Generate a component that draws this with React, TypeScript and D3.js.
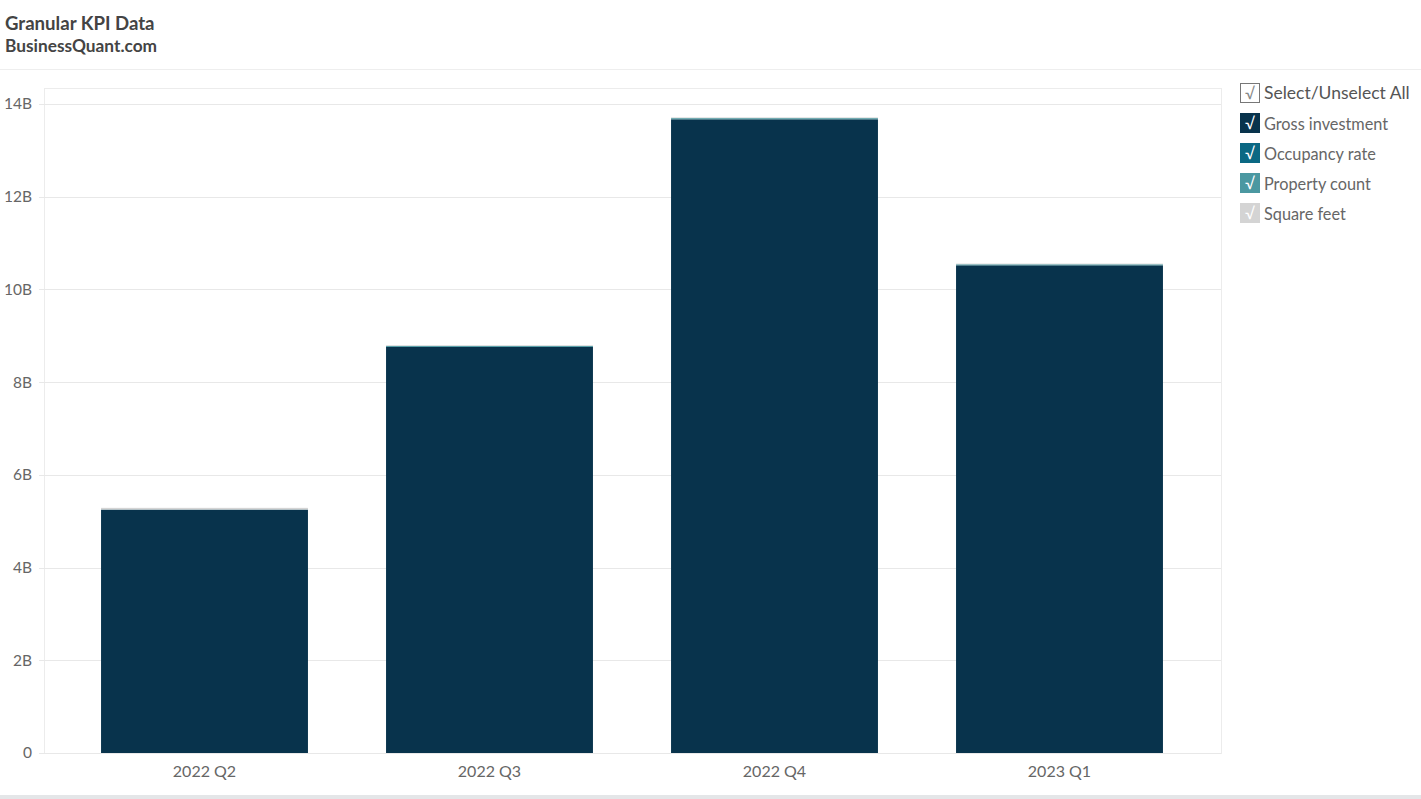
import React, { useRef, useEffect } from 'react';
import * as d3 from 'd3';

const quarters = ['2022 Q2', '2022 Q3', '2022 Q4', '2023 Q1'];
const seriesNames = ['Gross investment', 'Occupancy rate', 'Property count', 'Square feet'];
const seriesColors = ['#08334c', '#0b6883', '#4b98a1', '#d4d4d4'];

// values as plotted (stacked on one axis)
const grossInvestment = [5.25e9, 8.76e9, 13.67e9, 10.52e9];
const occupancyRate = [0.99, 0.99, 0.99, 0.99];
const propertyCount = [3.0e6, 2.0e7, 2.5e7, 2.2e7];
const squareFeet = [3.5e7, 1.5e7, 1.5e7, 1.5e7];

const yTicks = [0, 2e9, 4e9, 6e9, 8e9, 10e9, 12e9, 14e9];

const App: React.FC = () => {
  const svgRef = useRef<SVGSVGElement>(null);

  useEffect(() => {
    if (!svgRef.current) return;
    const svg = d3.select(svgRef.current);
    svg.selectAll('*').remove();

    const width = 1421;
    const height = 799;
    const plot = { left: 44, top: 88, right: 1221, bottom: 753 };

    svg.attr('width', width).attr('height', height)
      .style('font-family', 'Lato, "Open Sans", sans-serif');

    // header
    svg.append('text').attr('x', 5).attr('y', 30)
      .attr('font-size', 18.6).attr('font-weight', 700).attr('fill', '#444')
      .text('Granular KPI Data');
    svg.append('text').attr('x', 5).attr('y', 52)
      .attr('font-size', 17.3).attr('font-weight', 700).attr('fill', '#444')
      .text('BusinessQuant.com');
    svg.append('line').attr('x1', 0).attr('x2', width).attr('y1', 69.5).attr('y2', 69.5)
      .attr('stroke', '#eeeeee');
    svg.append('rect').attr('x', 0).attr('y', 795).attr('width', width).attr('height', 4)
      .attr('fill', '#e4e6e8');

    const x = d3.scaleBand<string>()
      .domain(quarters)
      .range([62, 1202])
      .paddingInner(0.274)
      .paddingOuter(0.137);

    const y = d3.scaleLinear().domain([0, 14e9]).range([plot.bottom, 104]);

    // frame
    svg.append('rect')
      .attr('x', plot.left + 0.5).attr('y', plot.top + 0.5)
      .attr('width', plot.right - plot.left).attr('height', plot.bottom - plot.top)
      .attr('fill', 'none').attr('stroke', '#ececec');

    // grid
    const grid = svg.append('g');
    grid.selectAll('line').data(yTicks).enter().append('line')
      .attr('x1', plot.left - 5).attr('x2', plot.right)
      .attr('y1', d => Math.round(y(d)) + 0.5).attr('y2', d => Math.round(y(d)) + 0.5)
      .attr('stroke', '#e8e8e8');

    grid.selectAll('text').data(yTicks).enter().append('text')
      .attr('x', 32).attr('y', d => y(d)).attr('dy', '0.35em')
      .attr('text-anchor', 'end').attr('font-size', 15.5).attr('fill', '#666')
      .text(d => (d === 0 ? '0' : `${d / 1e9}B`));

    // stacked bars
    const rows = quarters.map((q, i) => ({
      quarter: q,
      'Gross investment': grossInvestment[i],
      'Occupancy rate': occupancyRate[i],
      'Property count': propertyCount[i],
      'Square feet': squareFeet[i],
    }));
    const stack = d3.stack<any>().keys(seriesNames);
    const layers = stack(rows);

    layers.forEach((layer, li) => {
      svg.append('g').selectAll('rect').data(layer).enter().append('rect')
        .attr('x', d => x(d.data.quarter) as number)
        .attr('width', x.bandwidth())
        .attr('y', d => y(d[1]))
        .attr('height', d => Math.max(0, y(d[0]) - y(d[1])))
        .attr('fill', seriesColors[li]);
    });

    // x labels
    svg.append('g').selectAll('text').data(quarters).enter().append('text')
      .attr('x', d => (x(d) as number) + x.bandwidth() / 2)
      .attr('y', 777)
      .attr('text-anchor', 'middle').attr('font-size', 16).attr('fill', '#666')
      .text(d => d);

    // legend
    const legend = svg.append('g').attr('transform', 'translate(1240,83)');
    const all = legend.append('g');
    all.append('rect').attr('x', 0.5).attr('y', 0.5).attr('width', 19).attr('height', 19)
      .attr('fill', '#fff').attr('stroke', '#777');
    all.append('text').attr('x', 10).attr('y', 16).attr('text-anchor', 'middle')
      .attr('font-size', 16).attr('fill', '#888').text('√');
    all.append('text').attr('x', 24).attr('y', 10).attr('dy', '0.35em')
      .attr('font-size', 17.5).attr('fill', '#555').text('Select/Unselect All');

    const items = legend.selectAll('g.item').data(seriesNames).enter().append('g')
      .attr('class', 'item')
      .attr('transform', (_, i) => `translate(0,${30 + i * 30})`);
    items.append('rect').attr('width', 20).attr('height', 20)
      .attr('fill', (_, i) => seriesColors[i]);
    items.append('text').attr('x', 10).attr('y', 16).attr('text-anchor', 'middle')
      .attr('font-size', 16).attr('fill', '#fff').text('√');
    items.append('text').attr('x', 24).attr('y', 11).attr('dy', '0.35em')
      .attr('font-size', 16.3).attr('fill', '#666').text(d => d);
  }, []);

  return <svg ref={svgRef} style={{ position: 'absolute', left: 0, top: 0 }}></svg>;
};

export default App;
